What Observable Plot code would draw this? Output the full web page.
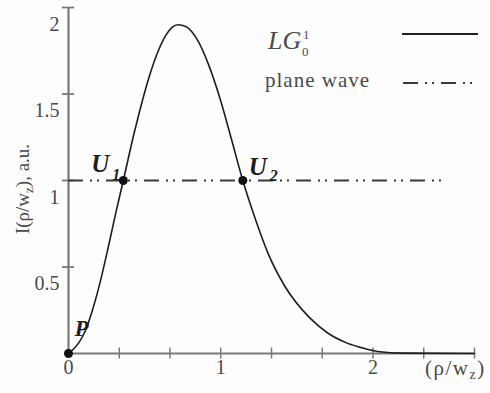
<!DOCTYPE html>
<html>
<head>
<meta charset="utf-8">
<script src="https://cdn.jsdelivr.net/npm/d3@7"></script>
<script src="https://cdn.jsdelivr.net/npm/@observablehq/plot@0.6"></script>
<style>
  html, body { margin: 0; padding: 0; background: #fdfdfd; }
  #wrap { position: relative; width: 490px; height: 393px; }
  #wrap svg { position: absolute; left: 0; top: 0; }
</style>
</head>
<body>
<div id="wrap"></div>
<script>
// Radial intensity profile of the LG_0^1 beam, I(ρ/w_z) in arbitrary units
const rho = [0, 0.066, 0.11, 0.15, 0.21, 0.26, 0.31, 0.36, 0.43, 0.47, 0.53, 0.59, 0.64, 0.68, 0.72, 0.77, 0.81, 0.855, 0.92, 1.0, 1.07, 1.145, 1.23, 1.31, 1.42, 1.58, 1.70, 1.83, 1.94, 2.03, 2.2, 2.667];
const intensity = [0, 0.06, 0.13, 0.23, 0.42, 0.61, 0.81, 1.0, 1.27, 1.41, 1.60, 1.75, 1.84, 1.885, 1.90, 1.89, 1.86, 1.80, 1.67, 1.46, 1.24, 1.0, 0.77, 0.58, 0.39, 0.21, 0.12, 0.06, 0.03, 0.012, 0.002, 0];

// Plane wave reference level and its extent along ρ/w_z
const planeLevel = 1;
const planeStart = 0;
const planeEnd = 2.49;

// Marked points: origin P and the two crossings U1, U2
const pointNames = ["P", "U", "U"];
const pointSubs = ["", "1", "2"];
const pointRho = [0, 0.36, 1.145];
const pointI = [0, 1, 1];

// Axis ticks
const xTicks = [1/3, 2/3, 1, 4/3, 5/3, 2, 7/3, 8/3];
const xTickLabels = [0, 1, 2];
const yTicks = [0.5, 1, 1.5, 2];

const profile = rho.map((r, i) => ({rho: r, I: intensity[i]}));
const points = pointNames.map((n, i) => ({name: n, sub: pointSubs[i], rho: pointRho[i], I: pointI[i]}));

const serif = "'Liberation Serif', 'Times New Roman', Times, serif";
const axisColor = "#7a7a7a";
const textColor = "#4a4a4a";
const labelColor = "#1e1e1e";
const dash = "15,7,2,5,2,7";

const chart = Plot.plot({
  width: 490,
  height: 393,
  marginLeft: 68,
  marginRight: 16,
  marginTop: 7,
  marginBottom: 40,
  x: {domain: [0, 8/3]},
  y: {domain: [0, 2]},
  style: {fontFamily: serif, background: "transparent", color: textColor},
  marks: [
    // axes lines
    Plot.ruleX([0], {y1: 0, y2: 2, stroke: axisColor, strokeWidth: 2.2}),
    Plot.ruleY([0], {stroke: axisColor, strokeWidth: 2.2}),
    // tick marks crossing the axes
    Plot.axisX({ticks: xTicks, tickSize: 11, dy: -5.5, tickFormat: () => "", label: null, stroke: axisColor, strokeWidth: 1.5}),
    Plot.axisY({ticks: yTicks, tickSize: 12, dx: 6, tickFormat: () => "", label: null, stroke: axisColor, strokeWidth: 1.8}),
    // tick labels
    Plot.axisX({ticks: xTickLabels, tickSize: 0, tickPadding: 6, fontSize: 20, label: null, fill: textColor, tickFormat: d => String(d)}),
    Plot.axisY({ticks: yTicks, tickSize: 0, tickPadding: 9, dy: 17, fontSize: 20, label: null, fill: textColor, tickFormat: d => String(d)}),
    // plane wave level
    Plot.ruleY([planeLevel], {x1: planeStart, x2: planeEnd, stroke: "#3a3a3a", strokeWidth: 2.2, strokeDasharray: dash}),
    // LG profile
    Plot.line(profile, {x: "rho", y: "I", curve: "monotone-x", stroke: "#1e1e1e", strokeWidth: 1.6}),
    // marked points
    Plot.dot(points, {x: "rho", y: "I", r: 4.5, fill: "#111", stroke: "none"}),
    // point labels
    Plot.text(points.filter(d => d.sub === ""), {x: "rho", y: "I", text: "name", dx: 13, dy: -25, fontSize: 23, fontWeight: "bold", fontStyle: "italic", fill: labelColor}),
    Plot.text(points.filter(d => d.sub === "1"), {x: "rho", y: "I", text: "name", dx: -23, dy: -17, fontSize: 25, fontWeight: "bold", fontStyle: "italic", fill: labelColor}),
    Plot.text(points.filter(d => d.sub === "1"), {x: "rho", y: "I", text: "sub", dx: -7, dy: -6, fontSize: 16, fontWeight: "bold", fontStyle: "italic", fill: labelColor}),
    Plot.text(points.filter(d => d.sub === "2"), {x: "rho", y: "I", text: "name", dx: 15, dy: -14, fontSize: 25, fontWeight: "bold", fontStyle: "italic", fill: labelColor}),
    Plot.text(points.filter(d => d.sub === "2"), {x: "rho", y: "I", text: "sub", dx: 31, dy: -5, fontSize: 16, fontWeight: "bold", fontStyle: "italic", fill: labelColor})
  ]
});

const wrap = document.getElementById("wrap");
wrap.appendChild(chart);

// Legend and axis titles (need sub/superscripts)
const overlay = d3.create("svg")
  .attr("width", 490).attr("height", 393)
  .style("pointer-events", "none")
  .style("font-family", serif)
  .style("fill", textColor);

// legend: LG_0^1
overlay.append("text").attr("x", 268).attr("y", 49).attr("font-size", 26).attr("font-style", "italic").text("LG");
overlay.append("text").attr("x", 303).attr("y", 39).attr("font-size", 13).text("1");
overlay.append("text").attr("x", 302).attr("y", 56).attr("font-size", 13).text("0");
overlay.append("line").attr("x1", 402).attr("x2", 478).attr("y1", 34).attr("y2", 34)
  .attr("stroke", "#222").attr("stroke-width", 2);

// legend: plane wave
overlay.append("text").attr("x", 265).attr("y", 87).attr("font-size", 21).attr("letter-spacing", 1).text("plane wave");
overlay.append("line").attr("x1", 403).attr("x2", 478).attr("y1", 83).attr("y2", 83)
  .attr("stroke", "#3a3a3a").attr("stroke-width", 2.2).attr("stroke-dasharray", dash);

// y title
const yt = overlay.append("text")
  .attr("transform", "translate(29,189) rotate(-90)")
  .attr("text-anchor", "middle").attr("font-size", 19);
yt.append("tspan").text("I(ρ/w");
yt.append("tspan").attr("font-size", 13).attr("dy", 4).text("z");
yt.append("tspan").attr("dy", -4).text("), a.u.");

// x title
const xt = overlay.append("text").attr("x", 425).attr("y", 375).attr("font-size", 21).attr("letter-spacing", 1.5);
xt.append("tspan").text("(ρ/w");
xt.append("tspan").attr("font-size", 14).attr("dy", 4).text("z");
xt.append("tspan").attr("dy", -4).text(")");

wrap.appendChild(overlay.node());
</script>
</body>
</html>
